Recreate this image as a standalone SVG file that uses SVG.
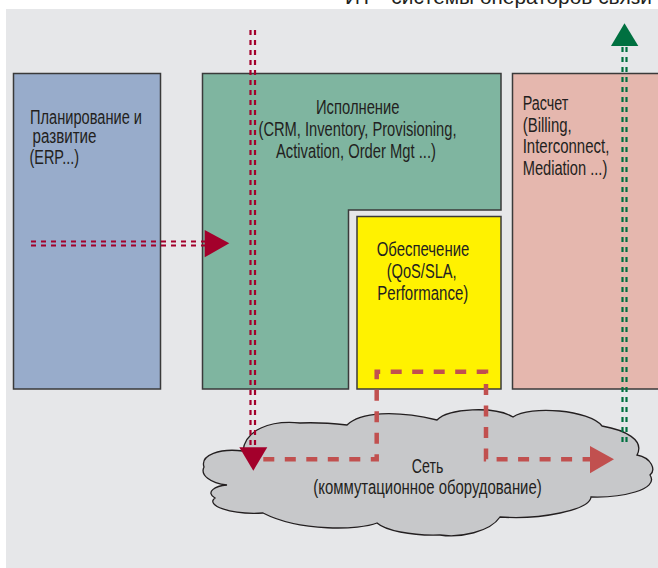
<svg xmlns="http://www.w3.org/2000/svg" width="658" height="568" viewBox="0 0 658 568">
<defs>
<style>
.t{font-family:"Liberation Sans",Arial,sans-serif;font-size:20px;fill:#231f20}
.box{stroke:#3a3a3a;stroke-width:1.5}
.dr{fill:none;stroke:#a3002b;stroke-width:2.2;stroke-dasharray:5 5}
.dg{fill:none;stroke:#007040;stroke-width:2.2;stroke-dasharray:5 5}
.dl{fill:none;stroke:#c1504f;stroke-width:4.5;stroke-dasharray:11 10.5}
</style>
</defs>
<rect x="0" y="0" width="658" height="568" fill="#ffffff"/>
<text class="t" x="345" y="4" textLength="307" lengthAdjust="spacingAndGlyphs">ИТ - системы операторов связи</text>
<rect x="6" y="9" width="652" height="559" fill="#e6e7e9"/>

<g id="planning">
<rect class="box" x="13.5" y="73.5" width="147" height="315.5" fill="#98accb"/>
<text class="t" x="30" y="124" textLength="112" lengthAdjust="spacingAndGlyphs">Планирование и</text>
<text class="t" x="32.5" y="143" textLength="64" lengthAdjust="spacingAndGlyphs">развитие</text>
<text class="t" x="29.5" y="163.5" textLength="49.5" lengthAdjust="spacingAndGlyphs">(ERP...)</text>
</g>

<g id="execution">
<path class="box" d="M202.5,73.5 H501 V210 H348.5 V389 H202.5 Z" fill="#7fb5a0"/>
<text class="t" x="316" y="114" textLength="83.5" lengthAdjust="spacingAndGlyphs">Исполнение</text>
<text class="t" x="258.5" y="136" textLength="198" lengthAdjust="spacingAndGlyphs">(CRM, Inventory, Provisioning,</text>
<text class="t" x="276" y="157.5" textLength="160" lengthAdjust="spacingAndGlyphs">Activation, Order Mgt ...)</text>
</g>

<g id="billing">
<rect class="box" x="512.5" y="73.5" width="150" height="315.5" fill="#e5b7ae"/>
<text class="t" x="522.7" y="109.5" textLength="45.6" lengthAdjust="spacingAndGlyphs">Расчет</text>
<text class="t" x="522.7" y="131.5" textLength="49" lengthAdjust="spacingAndGlyphs">(Billing,</text>
<text class="t" x="522.7" y="153" textLength="86.6" lengthAdjust="spacingAndGlyphs">Interconnect,</text>
<text class="t" x="522.7" y="175" textLength="84.6" lengthAdjust="spacingAndGlyphs">Mediation ...)</text>
</g>

<g id="assurance">
<rect class="box" x="357" y="216.5" width="144" height="172.5" fill="#fff200" stroke="#5a5a3a"/>
<text class="t" x="376.7" y="256" textLength="92.6" lengthAdjust="spacingAndGlyphs">Обеспечение</text>
<text class="t" x="386.7" y="278.3" textLength="70" lengthAdjust="spacingAndGlyphs">(QoS/SLA,</text>
<text class="t" x="377.3" y="300" textLength="91" lengthAdjust="spacingAndGlyphs">Performance)</text>
</g>

<g id="network">
<path d="M204,467 C200,455 220,448 243,451 C245,430 270,420 300,423 C320,422 338,424 347,425 C360,412 395,410 437,420 C448,408 495,406 513,417 C530,405 590,410 602,426 C625,430 645,440 637,455 C652,458 656,470 650,475 C660,490 620,498 591,497 C590,510 540,520 500,517 C490,532 460,538 440,535 C410,536 385,530 377,523 C360,530 300,532 263,513 C230,515 205,505 215,498 C205,492 215,486 227,485 C210,483 200,475 204,467 Z" fill="#c7c8ca" stroke="#231f20" stroke-width="1.3"/>
<text class="t" x="411.7" y="472.7" textLength="31.6" lengthAdjust="spacingAndGlyphs">Сеть</text>
<text class="t" x="313.3" y="494" textLength="228.4" lengthAdjust="spacingAndGlyphs">(коммутационное оборудование)</text>
</g>

<g id="connectors">
<path class="dr" d="M250.5,30 V450 M255,30 V450"/>
<polygon points="239.3,447.3 267.3,447.3 253.3,470.7" fill="#a3002b"/>
<path class="dr" d="M31,241.5 H205 M31,245.5 H205"/>
<polygon points="204.7,230 204.7,257.3 229.3,243.3" fill="#a3002b"/>
<path class="dg" d="M622.5,47 V447 M626.5,47 V447"/>
<polygon points="611,46 638.3,46 624.5,23.3" fill="#007040"/>
<path class="dl" d="M263.3,459.3 H376.7 V371.7 H486 V459.3 H590"/>
<polygon points="590,446 590,473.3 614,459.3" fill="#c1504f"/>
</g>
</svg>
